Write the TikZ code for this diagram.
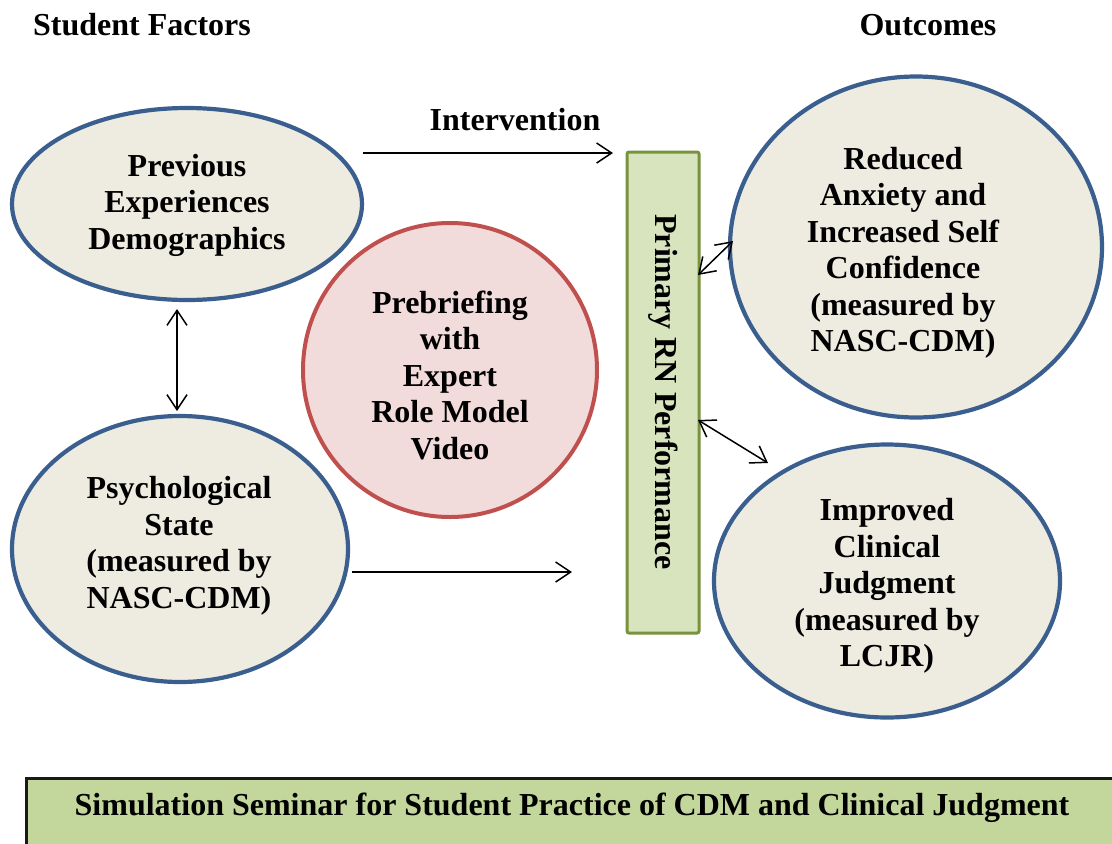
\documentclass[tikz,border=0pt]{standalone}
\usepackage{fontspec}
\setmainfont{Liberation Serif}
\usetikzlibrary{arrows.meta,shapes.geometric}
\definecolor{ellfill}{HTML}{EEECE1}
\definecolor{ellborder}{HTML}{3A5F8F}
\definecolor{redfill}{HTML}{F2DCDB}
\definecolor{redborder}{HTML}{C0504D}
\definecolor{rectfill}{HTML}{D7E4BD}
\definecolor{rectborder}{HTML}{77933C}
\definecolor{seminarfill}{HTML}{C3D69B}
\begin{document}
\begin{tikzpicture}[x=1pt,y=-1pt,
  txt/.style={font=\fontsize{32}{36.5}\selectfont\bfseries, align=center, inner sep=0pt},
  outc/.style={ellipse, draw=ellborder, line width=4.2pt, fill=ellfill, inner sep=0pt},
  conn/.style={line width=1.5pt, draw=black},
  tipbarb/.tip={Straight Barb[length=15pt,width=20pt,line width=1.5pt]},
  arr/.style={conn, -tipbarb},
  darr/.style={conn, tipbarb-tipbarb}]
\useasboundingbox (0,0) rectangle (1112,844);
\clip (0,0) rectangle (1112,844);
\fill[white] (0,0) rectangle (1112,844);
% titles
\node[txt] (tsf) at (142,25) {Student Factors};
\node[txt] (tout) at (928,25) {Outcomes};
\node[txt] (tint) at (515,120) {Intervention};
% left ellipses
\node[outc, minimum width=350pt, minimum height=192pt] (prev) at (187,204) {};
\node[txt] (prevt) at (187,205) {Previous\\Experiences\\Demographics};
\node[outc, minimum width=336pt, minimum height=266pt] (psy) at (180,549) {};
\node[txt] (psyt) at (179,546) {Psychological\\State\\(measured by\\NASC-CDM)};
% red circle
\node[circle, draw=redborder, fill=redfill, line width=4pt, inner sep=0pt, minimum size=294pt] (pre) at (450,370) {};
\node[txt] (pret) at (450,375) {Prebriefing\\with\\Expert\\Role Model\\Video};
% green bar
\node[draw=rectborder, fill=rectfill, line width=3pt, rounded corners=2pt, minimum width=72pt, minimum height=481pt, inner sep=0pt] (rn) at (663,392.5) {};
\node[txt, rotate=-90] (rnt) at (663,392) {Primary RN Performance};
% right ellipses
\node[outc, minimum width=372pt, minimum height=341pt] (anx) at (916,247) {};
\node[txt] (anxt) at (903,253) {Reduced\\Anxiety and\\Increased Self\\Confidence\\(measured by\\NASC-CDM)};
\node[outc, minimum width=346pt, minimum height=273pt] (cj) at (887,581) {};
\node[txt] (cjt) at (887,586) {Improved\\Clinical\\Judgment\\(measured by\\LCJR)};
% connectors
\coordinate (i1) at (363,153);
\coordinate (i2) at (613,153);
\draw[arr] (i1) -- (i2);
\coordinate (p1) at (352,572);
\coordinate (p2) at (572,572);
\draw[arr] (p1) -- (p2);
\coordinate (v1) at (177,309);
\coordinate (v2) at (177,411);
\draw[darr] (v1) -- (v2);
\coordinate (a1) at (698,275);
\coordinate (a2) at (733,241);
\draw[darr] (a1) -- (a2);
\coordinate (c1) at (698,420);
\coordinate (c2) at (768,463);
\draw[darr] (c1) -- (c2);
% seminar bar
\node[draw=black!90, fill=seminarfill, line width=3pt, minimum width=1110pt, minimum height=100pt, anchor=north west, inner sep=0pt] (sem) at (25,777) {};
\node[txt] (semt) at (572,808) {Simulation Seminar for Student Practice of CDM and Clinical Judgment};
\end{tikzpicture}
\end{document}
